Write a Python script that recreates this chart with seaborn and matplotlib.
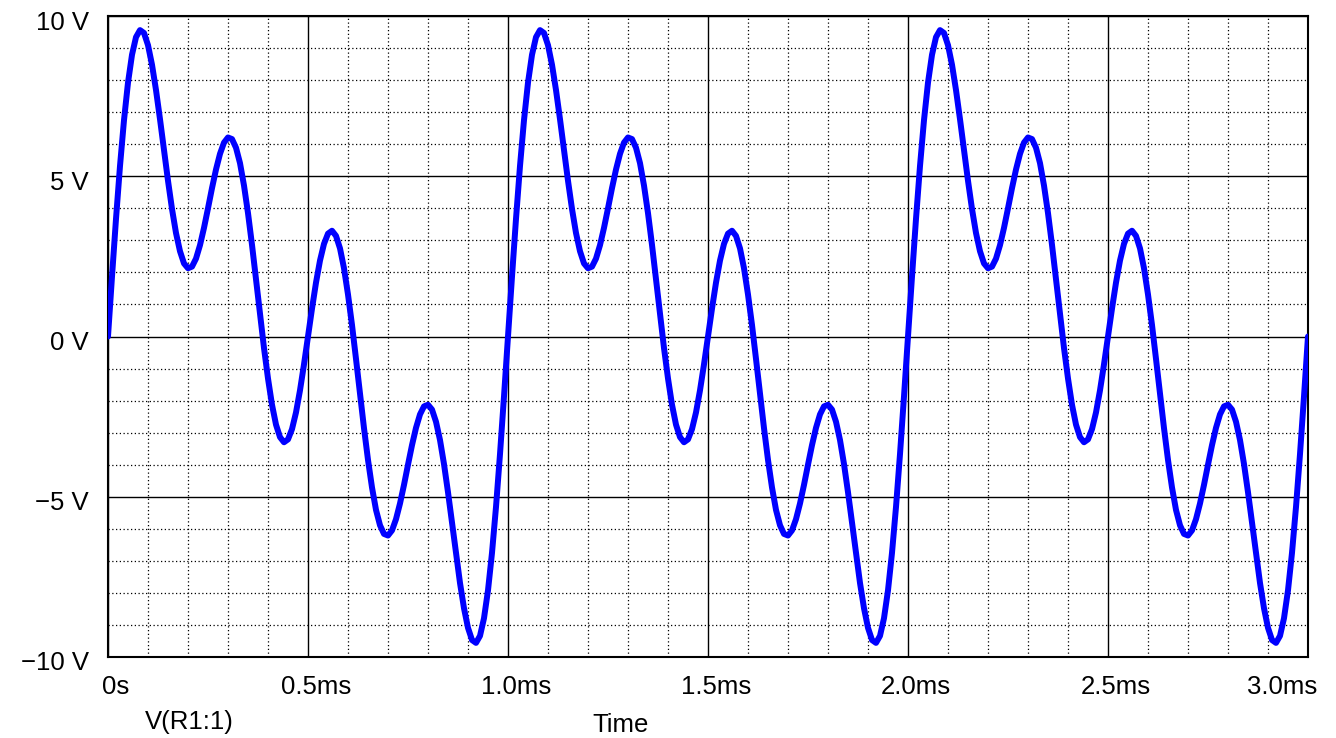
import numpy as np
import pandas as pd
import seaborn as sns
import matplotlib
matplotlib.use("Agg")
import matplotlib.pyplot as plt
from matplotlib.ticker import MultipleLocator, FixedLocator
from matplotlib.transforms import ScaledTranslation

# Sample times (ms), 0.01 ms apart
time_ms = np.round(np.arange(301) * 0.01, 2)

# V(R1:1), one row of values per 1 ms period
voltage_V = [
    0.00, 1.87, 3.67, 5.32, 6.75, 7.92, 8.79, 9.34, 9.56, 9.47, 9.09, 8.48, 7.69, 6.78, 5.81, 4.86, 3.98, 3.23, 2.66, 2.28,
    2.13, 2.18, 2.43, 2.85, 3.39, 4.00, 4.63, 5.21, 5.70, 6.05, 6.21, 6.16, 5.89, 5.41, 4.71, 3.85, 2.86, 1.79, 0.70, -0.36,
    -1.31, -2.13, -2.75, -3.14, -3.30, -3.21, -2.89, -2.37, -1.68, -0.87, 0.00, 0.87, 1.68, 2.37, 2.89, 3.21, 3.30, 3.14, 2.75, 2.13,
    1.31, 0.36, -0.70, -1.79, -2.86, -3.85, -4.71, -5.41, -5.89, -6.16, -6.21, -6.05, -5.70, -5.21, -4.63, -4.00, -3.39, -2.85, -2.43, -2.18,
    -2.13, -2.28, -2.66, -3.23, -3.98, -4.86, -5.81, -6.78, -7.69, -8.48, -9.09, -9.47, -9.56, -9.34, -8.79, -7.92, -6.75, -5.32, -3.67, -1.87,
    0.00, 1.87, 3.67, 5.32, 6.75, 7.92, 8.79, 9.34, 9.56, 9.47, 9.09, 8.48, 7.69, 6.78, 5.81, 4.86, 3.98, 3.23, 2.66, 2.28,
    2.13, 2.18, 2.43, 2.85, 3.39, 4.00, 4.63, 5.21, 5.70, 6.05, 6.21, 6.16, 5.89, 5.41, 4.71, 3.85, 2.86, 1.79, 0.70, -0.36,
    -1.31, -2.13, -2.75, -3.14, -3.30, -3.21, -2.89, -2.37, -1.68, -0.87, 0.00, 0.87, 1.68, 2.37, 2.89, 3.21, 3.30, 3.14, 2.75, 2.13,
    1.31, 0.36, -0.70, -1.79, -2.86, -3.85, -4.71, -5.41, -5.89, -6.16, -6.21, -6.05, -5.70, -5.21, -4.63, -4.00, -3.39, -2.85, -2.43, -2.18,
    -2.13, -2.28, -2.66, -3.23, -3.98, -4.86, -5.81, -6.78, -7.69, -8.48, -9.09, -9.47, -9.56, -9.34, -8.79, -7.92, -6.75, -5.32, -3.67, -1.87,
    0.00, 1.87, 3.67, 5.32, 6.75, 7.92, 8.79, 9.34, 9.56, 9.47, 9.09, 8.48, 7.69, 6.78, 5.81, 4.86, 3.98, 3.23, 2.66, 2.28,
    2.13, 2.18, 2.43, 2.85, 3.39, 4.00, 4.63, 5.21, 5.70, 6.05, 6.21, 6.16, 5.89, 5.41, 4.71, 3.85, 2.86, 1.79, 0.70, -0.36,
    -1.31, -2.13, -2.75, -3.14, -3.30, -3.21, -2.89, -2.37, -1.68, -0.87, 0.00, 0.87, 1.68, 2.37, 2.89, 3.21, 3.30, 3.14, 2.75, 2.13,
    1.31, 0.36, -0.70, -1.79, -2.86, -3.85, -4.71, -5.41, -5.89, -6.16, -6.21, -6.05, -5.70, -5.21, -4.63, -4.00, -3.39, -2.85, -2.43, -2.18,
    -2.13, -2.28, -2.66, -3.23, -3.98, -4.86, -5.81, -6.78, -7.69, -8.48, -9.09, -9.47, -9.56, -9.34, -8.79, -7.92, -6.75, -5.32, -3.67, -1.87,
    0.00,
]

x_ticks = [0, 0.5, 1.0, 1.5, 2.0, 2.5, 3.0]
x_labels = ["0s", "0.5ms", "1.0ms", "1.5ms", "2.0ms", "2.5ms", "3.0ms"]
y_ticks = [-10, -5, 0, 5, 10]
y_labels = ["\u221210 V", "\u22125 V", "0 V", "5 V", "10 V"]
trace_name = "V(R1:1)"
x_title = "Time"

sns.set_style("white")
plt.rcParams['font.family'] = ['Liberation Sans', 'DejaVu Sans']
FS = 18.5

fig = plt.figure(figsize=(13.36, 7.38), dpi=100)
ax = fig.add_axes([108/1336, 1-657/738, 1200/1336, 641/738])
df = pd.DataFrame({"Time": time_ms, "V": voltage_V})
sns.lineplot(data=df, x="Time", y="V", ax=ax, color=(0, 0, 1), linewidth=4.3, zorder=5)
ax.set_xlim(0, 3.0)
ax.set_ylim(-10, 10)
ax.xaxis.set_major_locator(FixedLocator(x_ticks))
ax.xaxis.set_minor_locator(MultipleLocator(0.1))
ax.yaxis.set_major_locator(FixedLocator(y_ticks))
ax.yaxis.set_minor_locator(MultipleLocator(1))
ax.set_xticklabels(x_labels)
ax.set_yticklabels(y_labels)
ax.grid(which='major', color='black', linewidth=1.0, linestyle='-')
ax.grid(which='minor', color='black', linewidth=0.9, linestyle=(0, (1, 2)))
ax.set_axisbelow(True)
ax.tick_params(which='major', direction='out', length=6, width=1.2, color='black',
               labelsize=FS, labelcolor='black')
ax.tick_params(axis='x', pad=7)
ax.tick_params(axis='y', pad=8)
ax.tick_params(which='minor', length=0)
for s in ax.spines.values():
    s.set_color('black')
    s.set_linewidth(1.5)
    s.set_visible(True)
ax.set_xlabel("")
ax.set_ylabel("")
for i, lab in enumerate(ax.get_xticklabels()):
    dx = -26/100 if i == len(x_labels)-1 else 8/100
    lab.set_transform(lab.get_transform() + ScaledTranslation(dx, 0, fig.dpi_scale_trans))
for lab in ax.get_yticklabels():
    lab.set_transform(lab.get_transform() + ScaledTranslation(0, -4/100, fig.dpi_scale_trans))
fig.text(145/1336, 1-722/738, trace_name, fontsize=FS, ha='left', va='center', color='black')
fig.text(621/1336, 1-725/738, x_title, fontsize=FS, ha='center', va='center', color='black')
fig.savefig("out.png", dpi=100)
